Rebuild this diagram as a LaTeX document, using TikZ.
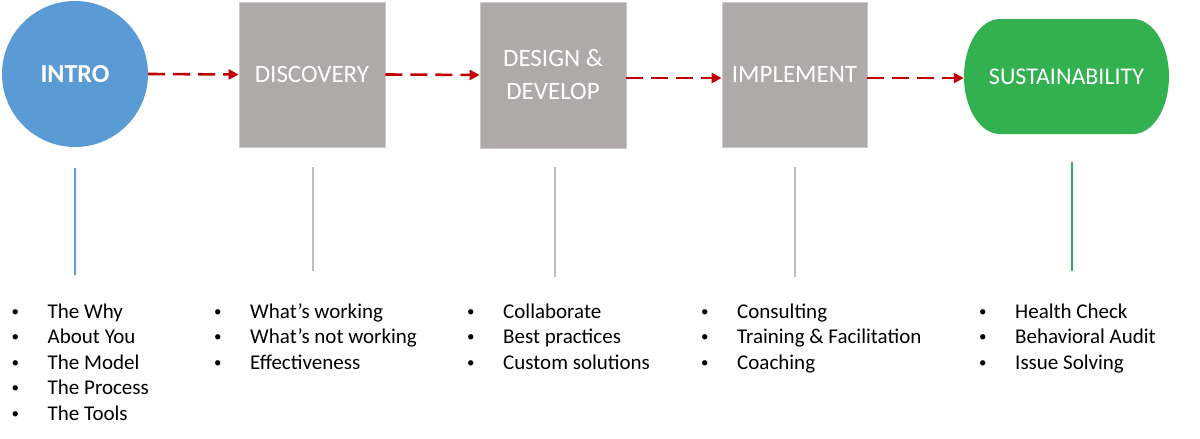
\documentclass[tikz,border=0pt]{standalone}
\usepackage{fontspec}
\setmainfont{Carlito}
\usetikzlibrary{arrows.meta}
\definecolor{introblue}{HTML}{5B9BD5}
\definecolor{boxgray}{HTML}{AEAAAA}
\definecolor{boxedge}{HTML}{C9C9C9}
\definecolor{linegray}{HTML}{BFBFBF}
\definecolor{sustgreen}{HTML}{33B04F}
\definecolor{linegreen}{HTML}{2DB34A}
\definecolor{flowred}{HTML}{C00000}
\newcommand\myitemfont{\fontsize{21}{25.5}\selectfont}
\newcommand\myboxfont{\fontsize{25}{33}\selectfont}
\newcommand\mybullet{\makebox[38pt][l]{\hspace{2pt}\raisebox{1.8pt}{\fontsize{15}{15}\selectfont •}}}
\tikzset{
  stagebox/.style={rectangle, fill=boxgray, draw=boxedge, line width=0.8pt, inner sep=0pt,
    text=white, font=\myboxfont, align=center},
  flow/.style={draw=flowred, line width=2.6pt, dash pattern=on 17pt off 8pt,
    -{Triangle[length=10pt,width=10pt]}},
  vline/.style={line width=2.6pt},
  item/.style={anchor=base west, inner sep=0pt, font=\myitemfont, text=black},
}
\begin{document}
\begin{tikzpicture}[x=1pt,y=-1pt]
\useasboundingbox (0,0) rectangle (1200,439);
% stages
\node[circle, fill=introblue, minimum size=146pt, inner sep=0pt, text=white,
  font=\bfseries\fontsize{26}{30}\selectfont] (intro) at (75,74) {INTRO};
\node[stagebox, minimum width=146pt, minimum height=145pt] (disc) at (312,74.5) {DISCOVERY};
\node[stagebox, minimum width=146pt, minimum height=146pt] (design) at (553,75) {DESIGN \&\\DEVELOP};
\node[stagebox, minimum width=145pt, minimum height=145pt] (impl) at (794.5,74.5) {IMPLEMENT};
% sustainability shape
\fill[sustgreen] (1000,19) -- (1133,19)
  .. controls (1152.9,19) and (1169,44.7) .. (1169,76.5)
  .. controls (1169,108.3) and (1152.9,134) .. (1133,134)
  -- (1000,134)
  .. controls (980.1,134) and (964,108.3) .. (964,76.5)
  .. controls (964,44.7) and (980.1,19) .. cycle;
\node[minimum width=205pt, minimum height=115pt, inner sep=0pt, text=white,
  font=\fontsize{24}{30}\selectfont] (sust) at (1066.5,76.5) {SUSTAINABILITY};
% flow arrows
\draw[flow] (intro.east) -- (disc.west);
\draw[flow] (disc.east) -- (design.west);
\draw[flow] ([yshift=-3pt]design.east) -- ([yshift=-3.5pt]impl.west);
\draw[flow] ([yshift=-3.5pt]impl.east) -- ([yshift=-1.5pt]sust.west);
% vertical lines
\coordinate (v1a) at (75,168);   \coordinate (v1b) at (75,275);
\coordinate (v2a) at (313,167);  \coordinate (v2b) at (313,271);
\coordinate (v3a) at (555,167);  \coordinate (v3b) at (555,277);
\coordinate (v4a) at (795,167);  \coordinate (v4b) at (795,277);
\coordinate (v5a) at (1072,162); \coordinate (v5b) at (1072,271);
\draw[vline, draw=introblue] (v1a) -- (v1b);
\draw[vline, draw=linegray] (v2a) -- (v2b);
\draw[vline, draw=linegray] (v3a) -- (v3b);
\draw[vline, draw=linegray] (v4a) -- (v4b);
\draw[vline, draw=linegreen] (v5a) -- (v5b);
% bullet lists
\foreach \t [count=\i] in {The Why, About You, The Model, The Process, The Tools}
  \node[item] (la\i) at (9.5,{318+25.5*(\i-1)}) {\mybullet\t};
\foreach \t [count=\i] in {What’s working, What’s not working, Effectiveness}
  \node[item] (lb\i) at (212,{318+25.5*(\i-1)}) {\mybullet\t};
\foreach \t [count=\i] in {Collaborate, Best practices, Custom solutions}
  \node[item] (lc\i) at (465,{318+25.5*(\i-1)}) {\mybullet\t};
\foreach \t [count=\i] in {Consulting, Training \& Facilitation, Coaching}
  \node[item] (ld\i) at (699,{318+25.5*(\i-1)}) {\mybullet\t};
\foreach \t [count=\i] in {Health Check, Behavioral Audit, Issue Solving}
  \node[item] (le\i) at (977,{318+25.5*(\i-1)}) {\mybullet\t};
\end{tikzpicture}
\end{document}
